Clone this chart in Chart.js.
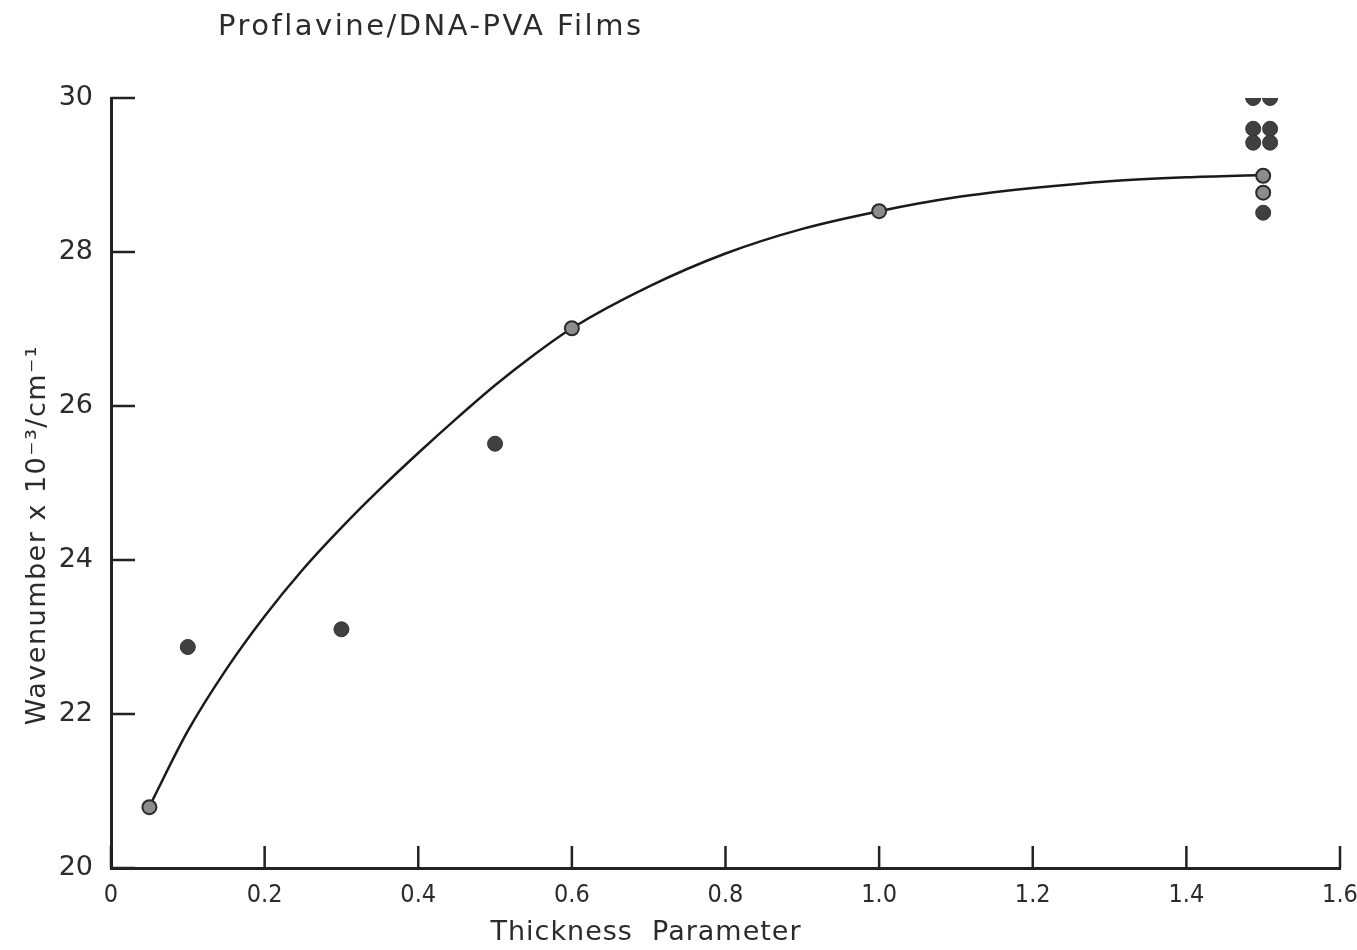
<!DOCTYPE html>
<html>
<head>
<meta charset="utf-8">
<script src="https://cdn.jsdelivr.net/npm/chart.js@4/dist/chart.umd.min.js"></script>
<style>
  html, body { margin: 0; background: #fff; }
  #wrap { width: 1357px; height: 950px; }
</style>
</head>
<body>
<div id="wrap"><canvas id="chartFilms"></canvas></div>
<script>
// fitted curve, read along its length
const curveX = [0.05, 0.1, 0.15, 0.2, 0.25, 0.3, 0.35, 0.4, 0.45, 0.5, 0.55, 0.6, 0.7, 0.8, 0.9, 1.0, 1.1, 1.2, 1.3, 1.4, 1.5];
const curveY = [20.8, 21.78, 22.58, 23.27, 23.88, 24.42, 24.92, 25.39, 25.84, 26.27, 26.66, 27.01, 27.55, 27.98, 28.3, 28.53, 28.71, 28.83, 28.92, 28.97, 29.0];

// shaded points (on the curve)
const shadedX = [0.05, 0.6, 1.0, 1.5, 1.5];
const shadedY = [20.79, 27.01, 28.53, 28.99, 28.77];

// solid points
const solidX = [0.1, 0.3, 0.5, 1.487, 1.509, 1.487, 1.509, 1.487, 1.509, 1.5];
const solidY = [22.87, 23.1, 25.51, 30.0, 30.0, 29.6, 29.6, 29.42, 29.42, 28.51];

const xTickLabels = ["0", "0.2", "0.4", "0.6", "0.8", "1.0", "1.2", "1.4", "1.6"];
const yTickLabels = ["20", "22", "24", "26", "28", "30"];

const chartTitle = "Proflavine/DNA-PVA Films";
const xTitle = "Thickness  Parameter";
const yTitle = "Wavenumber x 10\u207B\u00B3/cm\u207B\u00B9";

const FONT = "'DejaVu Sans', sans-serif";
const FONT_NARROW = "'DejaVu Sans Condensed', 'DejaVu Sans', sans-serif";
const INK = "#2b2b2b";

const toPoints = (xs, ys) => xs.map((x, i) => ({ x: x, y: ys[i] }));

// tick marks point into the plot, and the titles sit off-centre
const figureExtras = {
  id: "figureExtras",
  afterDraw(chart) {
    const { ctx, chartArea, scales } = chart;
    ctx.save();
    ctx.strokeStyle = "#222";
    ctx.lineWidth = 2.5;
    ctx.beginPath();
    scales.x.ticks.forEach((t) => {
      const px = scales.x.getPixelForValue(t.value);
      ctx.moveTo(px, chartArea.bottom);
      ctx.lineTo(px, chartArea.bottom - 22);
    });
    scales.y.ticks.forEach((t) => {
      const py = scales.y.getPixelForValue(t.value);
      ctx.moveTo(chartArea.left, py);
      ctx.lineTo(chartArea.left + 24, py);
    });
    ctx.stroke();

    ctx.fillStyle = INK;
    ctx.textBaseline = "middle";
    ctx.font = "29px " + FONT;
    ctx.letterSpacing = "2.5px";
    ctx.textAlign = "left";
    ctx.fillText(chartTitle, 218, 27);

    ctx.letterSpacing = "1px";
    ctx.font = "27px " + FONT;
    ctx.textAlign = "center";
    ctx.fillText(xTitle, 646, 933);

    ctx.letterSpacing = "1.5px";
    ctx.translate(38, 535);
    ctx.rotate(-Math.PI / 2);
    ctx.fillText(yTitle, 0, 0);
    ctx.restore();
  },
};

Chart.register(figureExtras);
new Chart(document.getElementById("chartFilms").getContext("2d"), {
  type: "scatter",
  data: {
    datasets: [
      {
        label: "Solid",
        data: toPoints(solidX, solidY),
        pointRadius: 7.5,
        pointBackgroundColor: "#404040",
        pointBorderColor: "#333",
        pointBorderWidth: 1,
        order: 1,
      },
      {
        label: "Shaded",
        data: toPoints(shadedX, shadedY),
        pointRadius: 7,
        pointBackgroundColor: "#8c8c8c",
        pointBorderColor: "#2a2a2a",
        pointBorderWidth: 2,
        order: 1,
      },
      {
        type: "line",
        label: "Fit",
        data: toPoints(curveX, curveY),
        borderColor: "#1a1a1a",
        borderWidth: 2.5,
        pointRadius: 0,
        cubicInterpolationMode: "monotone",
        fill: false,
        order: 3,
      },
    ],
  },
  options: {
    responsive: true,
    maintainAspectRatio: false,
    animation: false,
    layout: { padding: { top: 98, right: 17, left: 0, bottom: 0 } },
    plugins: {
      legend: { display: false },
      tooltip: { enabled: false },
    },
    scales: {
      x: {
        type: "linear",
        min: 0,
        max: 1.6,
        afterFit: (scale) => {
          scale.height = 82;
          scale.paddingLeft = 0;
          scale.paddingRight = 0;
        },
        grid: { drawOnChartArea: false, drawTicks: false },
        border: { display: true, color: "#222", width: 3 },
        ticks: {
          stepSize: 0.2,
          padding: 12,
          color: INK,
          font: { family: FONT_NARROW, size: 25 },
          maxRotation: 0,
          autoSkip: false,
          callback: (v, i) => xTickLabels[i],
        },
      },
      y: {
        type: "linear",
        min: 20,
        max: 30,
        afterFit: (scale) => {
          scale.width = 111;
          scale.paddingTop = 0;
          scale.paddingBottom = 0;
        },
        grid: { drawOnChartArea: false, drawTicks: false },
        border: { display: true, color: "#222", width: 3 },
        ticks: {
          stepSize: 2,
          padding: 18,
          color: INK,
          font: { family: FONT, size: 27 },
          callback: (v, i) => yTickLabels[i],
        },
      },
    },
  },
});
</script>
</body>
</html>
